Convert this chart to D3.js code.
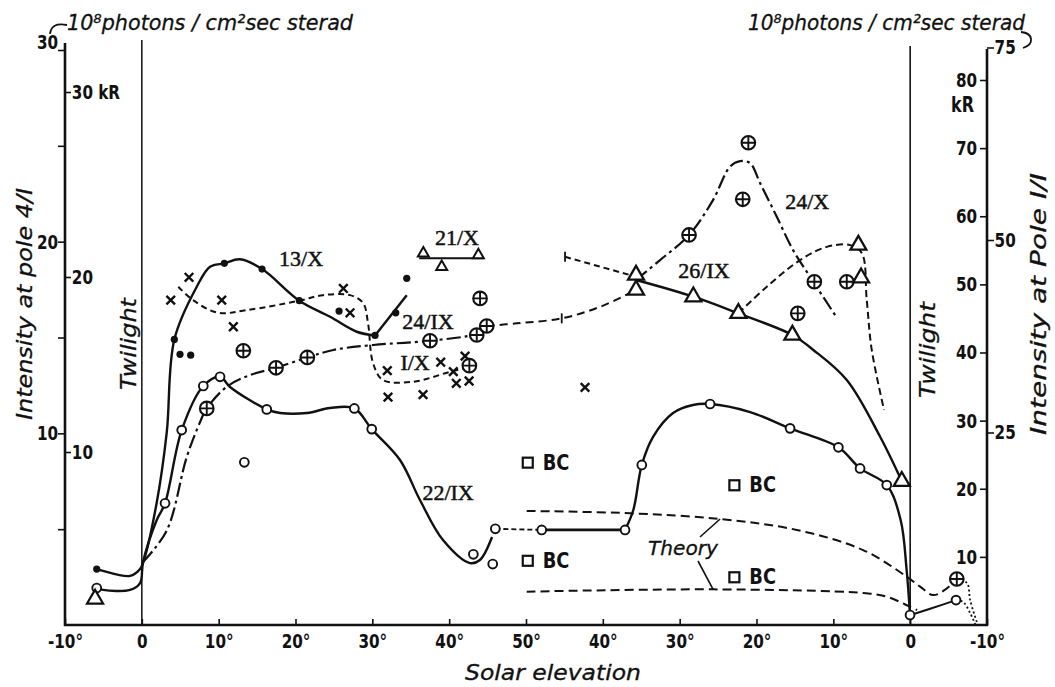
<!DOCTYPE html>
<html><head><meta charset="utf-8">
<script src="https://cdn.jsdelivr.net/npm/d3@7"></script>
<style>
body{margin:0;background:#fff}
.tk text{font-family:'DejaVu Sans',sans-serif;font-weight:bold;font-size:20px;fill:#111}
.lab{font-family:'Liberation Serif','DejaVu Serif',serif;font-size:22px;fill:#111;stroke:#111;stroke-width:0.5px}
.it{font-family:'DejaVu Sans',sans-serif;font-style:italic;fill:#111;stroke:#111;stroke-width:0.3px}
.bc{font-family:'DejaVu Sans',sans-serif;font-weight:bold;font-size:21px;fill:#111}
</style></head><body>
<svg id="c" width="1055" height="687"></svg>
<script>
// ---------- axis ticks ----------
const xTickPos = [-10,0,10,20,30,40,50,60,70,80,90,100,110];
const xTickLabels = ["-10°","0","10°","20°","30°","40°","50°","40°","30°","20°","10°","0","-10°"];
const leftTicks = [5,10,15,20,25,30];
const leftKRTicks = [10,20,30];
const rightKRTicks = [10,20,30,40,50,60,70,80];
const poleIITicks = [25,50,75];

// ---------- data (x = position along the day: elevation rising -10..50, then 100-elevation) ----------
const dots13X = [[-5.87,2.92],[4.23,14.90],[4.97,14.12],[6.36,14.08],[10.74,18.87],[15.65,18.57],[20.50,16.92],[25.67,16.38],[30.35,15.11],[33.05,16.29],[34.48,18.09]];
const curve13X = [[-5.87,2.92],[-5.05,2.82],[-1.54,2.56],[-0.23,2.92],[0.2,3.29],[1.94,6.39],[3.24,10.04],[4.23,14.90],[7.15,17.65],[8.88,18.69],[10.74,18.87],[12.78,19.08],[15.65,18.57],[20.50,16.92],[24.50,16.08],[27.97,15.30],[30.35,15.11]];
const seg13X = [[30.35,15.11],[34.48,17.21]];

const crossesIX = [[3.76,16.95],[6.14,18.14],[10.40,16.95],[11.91,15.56],[26.23,17.56],[27.10,16.29],[31.95,13.27],[32.04,11.89],[36.60,12.02],[38.90,13.71],[42.07,14.03],[40.54,13.22],[40.93,12.61],[42.59,12.73],[57.68,12.40]];
const curveIX = [[4.75,17.65],[6.66,16.95],[9.92,16.29],[13.65,16.43],[20.5,16.92],[23.58,17.21],[27.1,17.21],[28.79,16.80],[29.44,15.75],[30.09,13.67],[31.39,12.78],[35.30,12.69],[40.11,13.21],[42.72,13.47]];

const plus24IX = [[8.45,11.30],[13.21,14.31],[17.47,13.42],[21.54,13.96],[37.51,14.83],[42.63,13.53],[43.59,15.13],[44.89,15.60],[44.02,17.04]];
const curve24IX = [[0.16,3.29],[3.24,4.93],[5.84,8.76],[7.58,10.59],[8.45,11.30],[11.05,12.43],[14.08,13.04],[17.47,13.42],[21.54,13.96],[24.93,14.35],[30.13,14.61],[37.51,14.83],[43.59,15.21],[44.89,15.60]];
const tail24IX = [[44.89,15.60],[48.80,15.74],[54.65,16.0],[59.64,16.6],[64.32,17.48]];

const plus24X = [[71.22,20.35],[78.94,25.16],[78.21,22.21],[87.53,17.91],[91.75,17.91],[85.37,16.26],[106.07,2.40]];
const curve24X = [[64.32,18.0],[67.45,19.04],[71.22,20.35],[74.34,22.17],[76.55,23.91],[77.86,24.2],[79.16,24.1],[80.46,23.06],[82.64,21.30],[84.76,19.56],[86.97,18.17],[90.23,16.17]];

const tri26IX = [[-6.09,1.36],[64.32,18.26],[64.32,17.48],[71.78,17.13],[77.64,16.26],[84.67,15.13],[93.26,19.82],[93.61,18.12],[98.91,7.5]];
const curve26IX = [[64.32,18.0],[71.78,17.13],[77.64,16.26],[84.67,15.13],[87.40,14.35],[91.75,12.78],[96.09,9.82],[98.91,7.5]];
const branch26IX = [[77.64,16.26],[81.34,17.65],[85.67,19.04],[89.15,19.73],[92.18,19.82],[93.70,19.41],[94.35,16.95],[95.0,14.35],[96.6,11.22]];
const seg21 = [[55.08,19.21],[64.32,18.17]];

const tri21X = [[36.64,19.39],[39.03,18.69],[43.80,19.30]];
const line21X = [[36.1,19.13],[44.5,19.13]];

const open22IX = [[-5.87,1.93],[3.02,6.35],[5.19,10.17],[8.0,12.47],[10.18,12.95],[13.34,8.49],[16.26,11.25],[27.66,11.30],[29.92,10.22],[43.15,3.69],[45.67,3.18],[46.01,5.02],[52.05,4.96],[62.89,4.96],[65.07,8.35],[73.96,11.53],[84.37,10.26],[90.66,9.27],[93.48,8.17],[96.95,7.30],[99.98,0.52],[105.97,1.30]];
const curve22IXa = [[-5.87,1.93],[-5.05,1.83],[-1.54,1.83],[-0.23,2.19],[0.16,3.29],[1.94,5.48],[3.02,6.35],[5.19,10.17],[8.0,12.47],[10.18,12.95],[11.48,12.42],[16.26,11.25],[17.99,11.06],[21.5,11.06],[24.5,11.32],[27.66,11.30],[29.92,10.22],[33.6,8.61],[36.2,6.52],[39.2,4.43],[42.7,3.23],[44.0,3.39],[45.58,4.59]];
const dash22IX = [[46.01,5.02],[52.05,4.96]];
const flat22IX = [[52.05,4.96],[62.89,4.96]];
const curve22IXb = [[62.89,4.96],[63.97,6.0],[65.07,8.35],[66.54,9.82],[69.14,11.06],[71.74,11.48],[73.96,11.53],[79.17,11.11],[84.37,10.26],[90.66,9.27],[93.48,8.17],[96.95,7.30],[98.76,5.48],[99.54,2.87],[99.98,0.52]];
const end22IX = [[99.98,0.52],[102.6,0.85],[105.97,1.30]];
const dot22IX = [[105.97,1.30],[106.9,1.2],[107.8,0.63],[108.5,0]];

const theoryUpper = [[50.09,5.95],[63.54,5.83],[75.26,5.53],[85.24,4.96],[93.87,3.91],[99.56,2.52],[101.3,2.0],[102.98,1.56],[104.5,1.83],[106.07,2.40]];
const theoryUpperDot = [[106.07,2.40],[107.4,2.19],[107.8,1.30],[108.8,0]];
const theoryLower = [[50.09,1.74],[74.35,1.86],[93.87,1.67],[96.95,1.48],[99.98,0.95],[100.9,0.78]];

const squaresBC = [[50.23,8.47],[50.23,3.35],[77.12,7.29],[77.12,2.49]];

// annotations (text, x, y in data units)
const seriesLabels = [["13/X",20.73,19.14],["24/IX",37.25,15.81],["I/X",35.56,13.72],["21/X",41.02,20.24],["22/IX",39.86,6.89],["24/X",86.59,22.07],["26/IX",73.17,18.52]];
const unitText = "10⁸photons / cm²sec sterad";

// ---------- scales ----------
const svg = d3.select('#c');
const x = d3.scaleLinear().domain([-10,110]).range([65,987]);
const y = d3.scaleLinear().domain([0,30]).range([625,50]);
const kRL = d3.scaleLinear().domain([0,10,20,30]).range([625,452,277,92]);
const kRR = d3.scaleLinear().domain([0,80]).range([625,80]);
const yII = d3.scaleLinear().domain([0,75]).range([625,47.5]);
const INK = '#111';
const SQ = 'scale(0.76,1)';

svg.append('rect').attr('width',1055).attr('height',687).attr('fill','#fff');

// ---------- frame ----------
function vline(px,y1,y2,w){svg.append('line').attr('x1',px).attr('x2',px).attr('y1',y1).attr('y2',y2).attr('stroke',INK).attr('stroke-width',w);}
vline(x(-10),43,626,2.6);
vline(x(110),49,626,2.6);
vline(x(0),40,625,1.5);
vline(x(100),46,625,1.6);

function styleAxis(g){
  g.select('.domain').remove();
  g.selectAll('.tick line').attr('stroke',INK).attr('stroke-width',1.6);
  g.selectAll('.tick text').attr('transform',SQ);
}
const gx = svg.append('g').attr('class','tk').attr('transform','translate(0,625)')
  .call(d3.axisBottom(x).tickValues(xTickPos).tickFormat((d,i)=>xTickLabels[i]).tickSize(-6).tickSizeOuter(0).tickPadding(9));
styleAxis(gx);
svg.append('line').attr('x1',x(-10)-1).attr('x2',x(110)+1).attr('y1',625).attr('y2',625).attr('stroke',INK).attr('stroke-width',2.6);

const gl = svg.append('g').attr('class','tk').attr('transform',`translate(${x(-10)},0)`)
  .call(d3.axisLeft(y).tickValues(leftTicks).tickFormat(d=>d%10===0?d:'').tickSize(7).tickPadding(2));
styleAxis(gl);
gl.selectAll('.tick text').filter(d=>d===30).attr('dy','-0.1em');

const gkl = svg.append('g').attr('class','tk').attr('transform',`translate(${x(-10)},0)`)
  .call(d3.axisRight(kRL).tickValues(leftKRTicks).tickFormat(d=>d===30?'30 kR':d).tickSize(6).tickPadding(3));
styleAxis(gkl);

const gkr = svg.append('g').attr('class','tk').attr('transform',`translate(${x(110)},0)`)
  .call(d3.axisLeft(kRR).tickValues(rightKRTicks).tickSize(7).tickPadding(6));
styleAxis(gkr);
svg.append('text').attr('transform',`translate(${x(110)-13},${kRR(80)+32}) ${SQ}`).attr('text-anchor','end')
  .style('font-family',"'DejaVu Sans',sans-serif").style('font-weight','bold').style('font-size','21px').style('fill',INK).text('kR');

const gii = svg.append('g').attr('class','tk').attr('transform',`translate(${x(110)},0)`)
  .call(d3.axisRight(yII).tickValues(poleIITicks).tickSize(7).tickPadding(3));
styleAxis(gii);

// ---------- titles ----------
function itext(t,cx,cy,len,fs,rot){
  return svg.append('text').attr('class','it').attr('text-anchor','middle').attr('dominant-baseline','central')
    .attr('transform',`translate(${cx},${cy}) rotate(${rot||0})`).style('font-size',fs+'px')
    .attr('textLength',len).attr('lengthAdjust','spacingAndGlyphs').text(t);
}
itext('Intensity at pole 4/I',24,304,232,22,-90);
itext('Intensity at Pole I/I',1038,304,262,22,-90);
itext('Twilight',128,344,92,22,-90);
itext('Twilight',927,350,96,22,-90);
itext('Solar elevation',553,673,176,21,0);
itext('Theory',683,548,70,20,0);

function topText(x0,len){
  svg.append('text').attr('class','it').attr('x',x0).attr('y',30).style('font-size','22px')
    .attr('textLength',len).attr('lengthAdjust','spacingAndGlyphs').text(unitText);
}
topText(67,286);
topText(748,277);
svg.append('path').attr('d','M50,34 C51,26 56,23 67,25').attr('fill','none').attr('stroke',INK).attr('stroke-width',1.8);
svg.append('path').attr('d','M1021,32 C1033,33 1035,44 1023,48').attr('fill','none').attr('stroke',INK).attr('stroke-width',1.8);

// ---------- lines ----------
const smooth = d3.line().x(d=>x(d[0])).y(d=>y(d[1])).curve(d3.curveCatmullRom.alpha(0.5));
const straight = d3.line().x(d=>x(d[0])).y(d=>y(d[1]));
function draw(data,gen,dash,w){
  svg.append('path').attr('d',gen(data)).attr('fill','none').attr('stroke',INK)
    .attr('stroke-width',w||2).attr('stroke-dasharray',dash||null);
}
const DASHDOT='14,4,3,4', DASH='6,4', LDASH='9,5', DOT='2,2.5';
draw(curve13X,smooth,null,2.4);
draw(seg13X,straight,null,2.4);
draw(curveIX,smooth,DASH,2);
draw(curve24IX,smooth,DASHDOT,2.2);
draw(tail24IX,smooth,'8,5',2);
draw(curve24X,smooth,DASHDOT,2.2);
draw(curve26IX,smooth,null,2.4);
draw(branch26IX,smooth,'7,4',2);
draw(seg21,straight,'6,4',2);
draw(line21X,straight,null,2);
draw(curve22IXa,smooth,null,2.4);
draw(dash22IX,straight,'5,3',1.8);
draw(flat22IX,straight,null,2.8);
draw(curve22IXb,smooth,null,2.4);
draw(end22IX,smooth,null,2);
draw(dot22IX,smooth,DOT,1.8);
draw(theoryUpper,smooth,LDASH,2);
draw(theoryUpperDot,smooth,DOT,1.8);
draw(theoryLower,smooth,LDASH,2);
// small end ticks on dashed segments
[[54.65,16.0],[55.08,19.21]].forEach(d=>vline(x(d[0]),y(d[1])-5,y(d[1])+5,1.8));
// Theory leaders
svg.append('line').attr('x1',700).attr('y1',537).attr('x2',x(75.26)).attr('y2',y(5.53)).attr('stroke',INK).attr('stroke-width',1.6);
svg.append('line').attr('x1',698).attr('y1',561).attr('x2',x(74.35)).attr('y2',y(1.86)).attr('stroke',INK).attr('stroke-width',1.6);

// ---------- markers ----------
svg.append('g').selectAll('circle').data(dots13X).join('circle')
  .attr('cx',d=>x(d[0])).attr('cy',d=>y(d[1])).attr('r',3.6).attr('fill',INK);
svg.append('g').selectAll('path').data(crossesIX).join('path')
  .attr('d',d=>{const a=x(d[0]),b=y(d[1]),s=4.3;return `M${a-s},${b-s}L${a+s},${b+s}M${a-s},${b+s}L${a+s},${b-s}`;})
  .attr('stroke',INK).attr('stroke-width',2.4);
svg.append('g').selectAll('circle').data(open22IX).join('circle')
  .attr('cx',d=>x(d[0])).attr('cy',d=>y(d[1])).attr('r',4.4).attr('fill','#fff').attr('stroke',INK).attr('stroke-width',1.9);
const plusG = svg.append('g').selectAll('g').data(plus24IX.concat(plus24X)).join('g')
  .attr('transform',d=>`translate(${x(d[0])},${y(d[1])})`);
plusG.append('circle').attr('r',6.8).attr('fill','#fff').attr('stroke',INK).attr('stroke-width',2.1);
plusG.append('path').attr('d','M-6.8,0H6.8M0,-6.8V6.8').attr('stroke',INK).attr('stroke-width',1.9);
const triBig = d3.symbol(d3.symbolTriangle,110), triSmall = d3.symbol(d3.symbolTriangle,52);
svg.append('g').selectAll('path').data(tri26IX).join('path')
  .attr('transform',d=>`translate(${x(d[0])},${y(d[1])})`).attr('d',triBig())
  .attr('fill','#fff').attr('stroke',INK).attr('stroke-width',2.3);
svg.append('g').selectAll('path').data(tri21X).join('path')
  .attr('transform',d=>`translate(${x(d[0])},${y(d[1])})`).attr('d',triSmall())
  .attr('fill','#fff').attr('stroke',INK).attr('stroke-width',2);
svg.append('g').selectAll('rect').data(squaresBC).join('rect')
  .attr('x',d=>x(d[0])-5).attr('y',d=>y(d[1])-5).attr('width',10).attr('height',10)
  .attr('fill','#fff').attr('stroke',INK).attr('stroke-width',2.2);
svg.append('g').selectAll('text').data(squaresBC).join('text').attr('class','bc')
  .attr('transform',d=>`translate(${x(d[0])+15},${y(d[1])}) scale(0.85,1)`).attr('dominant-baseline','central').text('BC');

// ---------- series labels ----------
svg.append('g').selectAll('text').data(seriesLabels).join('text').attr('class','lab')
  .attr('x',d=>x(d[1])).attr('y',d=>y(d[2])).attr('text-anchor','middle').attr('dominant-baseline','central')
  .text(d=>d[0]);
</script></body></html>
